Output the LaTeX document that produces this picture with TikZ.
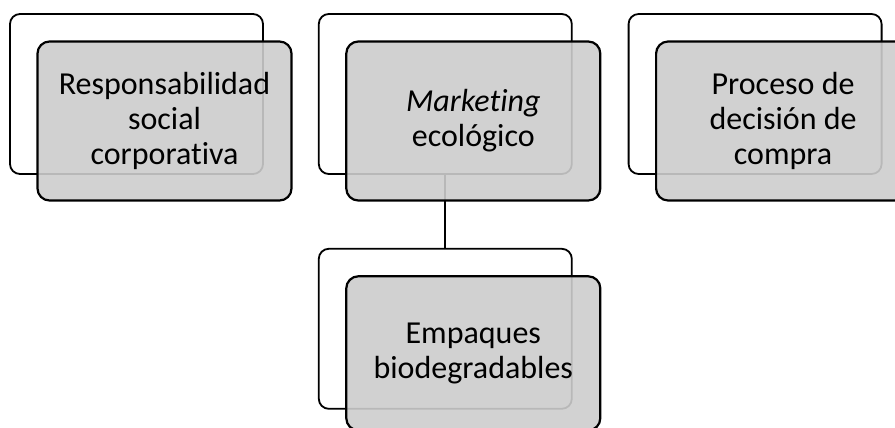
\documentclass[tikz,border=0pt]{standalone}
\usepackage{fontspec}
\setmainfont[Ligatures=NoCommon]{Carlito}
\usetikzlibrary{positioning}
\definecolor{boxgray}{HTML}{CDCDCD}

\begin{document}
\begin{tikzpicture}[x=1pt,y=-1pt,
  backbox/.style={draw=black,line width=1.8pt,fill=white,rounded corners=10pt,
    minimum width=253pt,minimum height=160pt,inner sep=0pt},
  frontbox/.style={draw=black,line width=2.2pt,fill=boxgray,fill opacity=0.9,
    text opacity=1,rounded corners=12pt,minimum width=254pt,minimum height=159pt,
    inner sep=0pt,align=center,font=\fontsize{32}{35}\selectfont,
    xshift=28pt,yshift=-27pt}]

  \clip (0,0) rectangle (895,428);

  % ---- back frames ----
  \node[backbox] (rsback) at (136.5,94) {};
  \node[backbox,right=54pt of rsback] (mkback) {};
  \node[backbox,right=55pt of mkback] (pdback) {};
  \node[backbox,below=73pt of mkback] (embback) {};

  % ---- link ----
  \draw[line width=1.8pt] (mkback.south) -- (embback.north);

  % ---- front boxes with labels ----
  \node[frontbox] (rs) at (rsback.center)
        {Responsabilidad\\social\\corporativa};
  \node[frontbox] (mk) at (mkback.center)
        {\textit{Marketing}\\ecológico};
  \node[frontbox] (pd) at (pdback.center)
        {Proceso de\\decisión de\\compra};
  \node[frontbox,minimum height=154pt,yshift=2.5pt] (emb) at (embback.center)
        {Empaques\\biodegradables};

\end{tikzpicture}
\end{document}
